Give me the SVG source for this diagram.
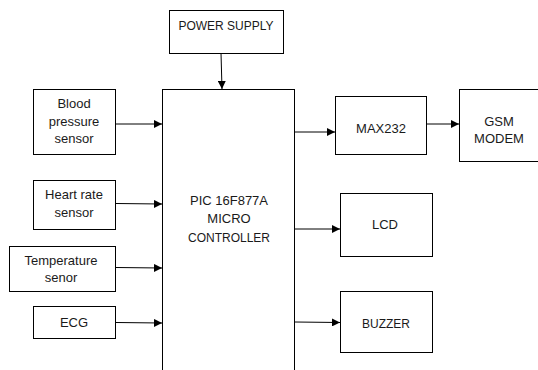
<svg xmlns="http://www.w3.org/2000/svg" width="538" height="370" viewBox="0 0 538 370">
<style>
.box{fill:#fff;stroke:#000;stroke-width:1}
.t{font-family:"Liberation Sans",Arial,sans-serif;font-size:13px;fill:#1a1a1a;text-anchor:middle}
.s{font-size:12px}
.c{stroke:#000;stroke-width:1;fill:none;marker-end:url(#ah)}
</style>
<defs>
<marker id="ah" markerWidth="8" markerHeight="8" refX="8" refY="4" orient="auto" markerUnits="userSpaceOnUse">
<path d="M0,0 L8,4 L0,8 Z" fill="#000"/>
</marker>
</defs>
<rect width="538" height="370" fill="#fff"/>
<g id="connectors">
<line class="c" x1="221" y1="53" x2="222" y2="89"/>
<line class="c" x1="116" y1="124" x2="162" y2="124"/>
<line class="c" x1="116" y1="203.5" x2="162" y2="204"/>
<line class="c" x1="116" y1="267.5" x2="162" y2="268"/>
<line class="c" x1="116" y1="322.5" x2="162" y2="323"/>
<line class="c" x1="295" y1="132" x2="335" y2="132"/>
<line class="c" x1="427" y1="124" x2="459" y2="124"/>
<line class="c" x1="295" y1="229" x2="340" y2="229"/>
<line class="c" x1="295" y1="322" x2="340" y2="322.5"/>
</g>
<g id="power">
<rect class="box" x="169.5" y="10.5" width="114" height="43"/>
<text class="t s" x="226" y="30">POWER SUPPLY</text>
</g>
<g id="micro">
<rect class="box" x="162.5" y="89.5" width="132" height="290"/>
<text class="t" x="229" y="205">PIC 16F877A</text>
<text class="t" x="229" y="223">MICRO</text>
<text class="t s" x="229" y="242">CONTROLLER</text>
</g>
<g id="bp">
<rect class="box" x="33.5" y="89.5" width="82" height="65"/>
<text class="t" x="74" y="108">Blood</text>
<text class="t" x="74" y="126">pressure</text>
<text class="t" x="74" y="143">sensor</text>
</g>
<g id="hr">
<rect class="box" x="33.5" y="180.5" width="82" height="49"/>
<text class="t" x="74" y="199">Heart rate</text>
<text class="t" x="74" y="217">sensor</text>
</g>
<g id="temp">
<rect class="box" x="9.5" y="246.5" width="106" height="45"/>
<text class="t" x="61" y="265">Temperature</text>
<text class="t" x="61" y="282">senor</text>
</g>
<g id="ecg">
<rect class="box" x="33.5" y="306.5" width="82" height="32"/>
<text class="t" x="74" y="327">ECG</text>
</g>
<g id="max">
<rect class="box" x="335.5" y="96.5" width="91" height="58"/>
<text class="t" x="381" y="133">MAX232</text>
</g>
<g id="gsm">
<rect class="box" x="459.5" y="89.5" width="90" height="72"/>
<text class="t" x="499" y="126">GSM</text>
<text class="t" x="499" y="143">MODEM</text>
</g>
<g id="lcd">
<rect class="box" x="340.5" y="193.5" width="92" height="63"/>
<text class="t" x="385" y="229">LCD</text>
</g>
<g id="buzzer">
<rect class="box" x="340.5" y="291.5" width="92" height="61"/>
<text class="t s" x="386" y="328">BUZZER</text>
</g>
</svg>
